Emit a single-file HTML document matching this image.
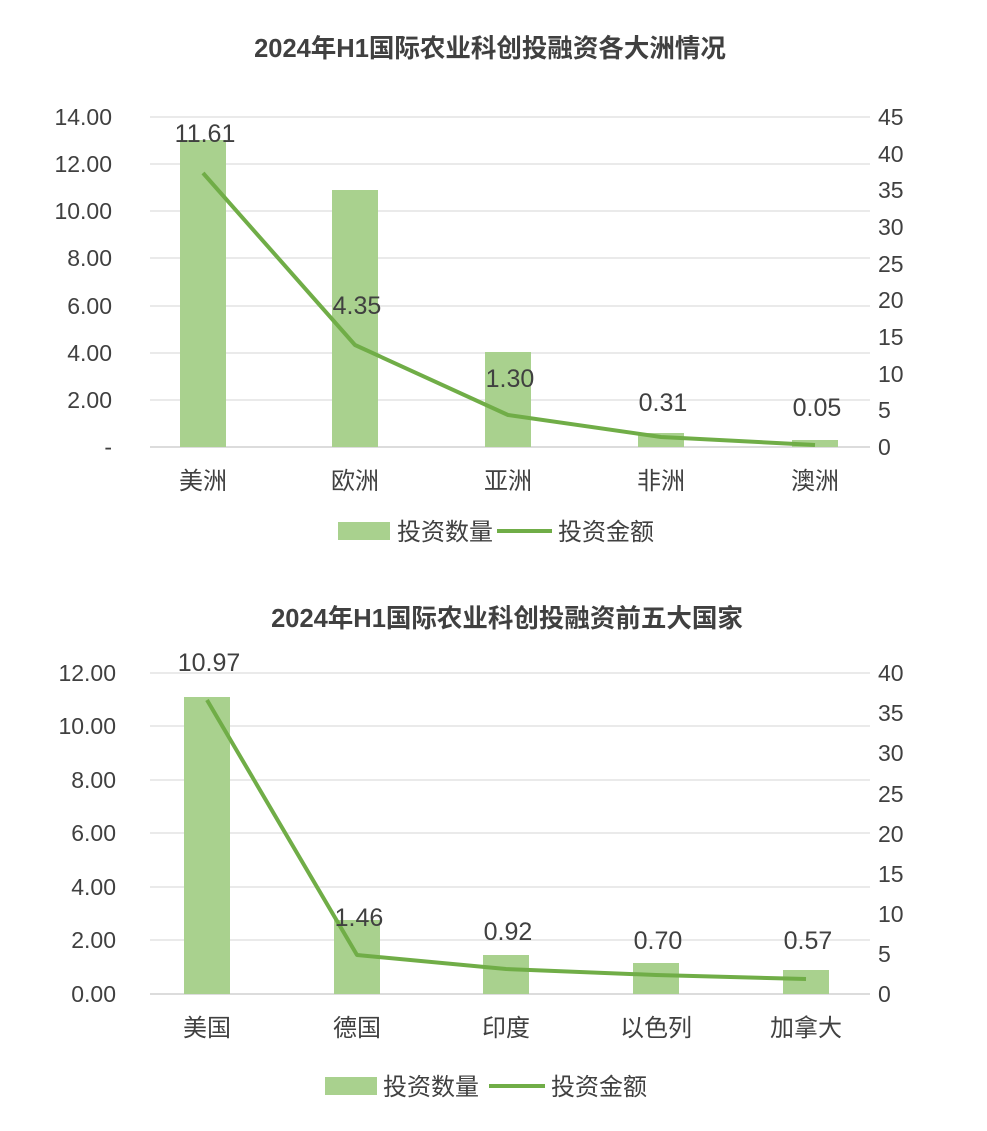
<!DOCTYPE html>
<html><head><meta charset="utf-8"><style>
body{margin:0;background:#fff;}
svg text{font-family:"Liberation Sans","Noto Sans CJK SC",sans-serif;fill:#404040;}
</style></head><body>
<svg width="987" height="1126" viewBox="0 0 987 1126" xmlns="http://www.w3.org/2000/svg">
<rect width="987" height="1126" fill="#fff"/>
<!-- Chart 1 -->
<text x="490" y="57" font-size="25.5" font-weight="bold" text-anchor="middle" fill="#404040">2024年H1国际农业科创投融资各大洲情况</text>
<g stroke="#e3e3e3" stroke-width="1.5">
<line x1="150" y1="117" x2="870" y2="117"/><line x1="150" y1="164" x2="870" y2="164"/>
<line x1="150" y1="211" x2="870" y2="211"/><line x1="150" y1="258" x2="870" y2="258"/>
<line x1="150" y1="306" x2="870" y2="306"/><line x1="150" y1="353" x2="870" y2="353"/>
<line x1="150" y1="400" x2="870" y2="400"/>
</g>
<line x1="150" y1="447" x2="870" y2="447" stroke="#d0d0d0" stroke-width="1.5"/>
<g font-size="23" text-anchor="end">
<text x="112" y="125">14.00</text><text x="112" y="172">12.00</text><text x="112" y="219">10.00</text>
<text x="112" y="266">8.00</text><text x="112" y="314">6.00</text><text x="112" y="361">4.00</text>
<text x="112" y="408">2.00</text><text x="112" y="455">-</text>
</g>
<g font-size="23" text-anchor="start">
<text x="878" y="125">45</text><text x="878" y="162">40</text><text x="878" y="198">35</text>
<text x="878" y="235">30</text><text x="878" y="272">25</text><text x="878" y="308">20</text>
<text x="878" y="345">15</text><text x="878" y="382">10</text><text x="878" y="418">5</text>
<text x="878" y="455">0</text>
</g>
<g fill="#a9d18e">
<rect x="180" y="140" width="46" height="307"/>
<rect x="332" y="190" width="46" height="257"/>
<rect x="485" y="352" width="46" height="95"/>
<rect x="638" y="433" width="46" height="14"/>
<rect x="792" y="440" width="46" height="7"/>
</g>
<polyline points="203,173 355,345 508,415 661,437 815,445" fill="none" stroke="#70ad47" stroke-width="4" stroke-linejoin="round"/>
<g font-size="25" text-anchor="middle">
<text x="205" y="142">11.61</text><text x="357" y="314">4.35</text><text x="510" y="387">1.30</text>
<text x="663" y="411">0.31</text><text x="817" y="416">0.05</text>
</g>
<g font-size="24" text-anchor="middle">
<text x="203" y="489">美洲</text><text x="355" y="489">欧洲</text><text x="508" y="489">亚洲</text>
<text x="661" y="489">非洲</text><text x="815" y="489">澳洲</text>
</g>
<rect x="338" y="522" width="52" height="18" fill="#a9d18e"/>
<text x="397" y="540" font-size="24">投资数量</text>
<line x1="497" y1="531" x2="552" y2="531" stroke="#70ad47" stroke-width="4"/>
<text x="558" y="540" font-size="24">投资金额</text>

<!-- Chart 2 -->
<text x="507" y="627" font-size="25.5" font-weight="bold" text-anchor="middle" fill="#404040">2024年H1国际农业科创投融资前五大国家</text>
<g stroke="#e3e3e3" stroke-width="1.5">
<line x1="150" y1="673" x2="870" y2="673"/><line x1="150" y1="726" x2="870" y2="726"/>
<line x1="150" y1="780" x2="870" y2="780"/><line x1="150" y1="833" x2="870" y2="833"/>
<line x1="150" y1="887" x2="870" y2="887"/><line x1="150" y1="940" x2="870" y2="940"/>
</g>
<line x1="150" y1="994" x2="870" y2="994" stroke="#d0d0d0" stroke-width="1.5"/>
<g font-size="23" text-anchor="end">
<text x="116" y="681">12.00</text><text x="116" y="734">10.00</text><text x="116" y="788">8.00</text>
<text x="116" y="841">6.00</text><text x="116" y="895">4.00</text><text x="116" y="948">2.00</text>
<text x="116" y="1002">0.00</text>
</g>
<g font-size="23" text-anchor="start">
<text x="878" y="681">40</text><text x="878" y="721">35</text><text x="878" y="761">30</text>
<text x="878" y="802">25</text><text x="878" y="842">20</text><text x="878" y="882">15</text>
<text x="878" y="922">10</text><text x="878" y="962">5</text><text x="878" y="1002">0</text>
</g>
<g fill="#a9d18e">
<rect x="184" y="697" width="46" height="297"/>
<rect x="334" y="920" width="46" height="74"/>
<rect x="483" y="955" width="46" height="39"/>
<rect x="633" y="963" width="46" height="31"/>
<rect x="783" y="970" width="46" height="24"/>
</g>
<polyline points="207,700 357,955 506,969 656,975 806,979" fill="none" stroke="#70ad47" stroke-width="4" stroke-linejoin="round"/>
<g font-size="25" text-anchor="middle">
<text x="209" y="671">10.97</text><text x="359" y="926">1.46</text><text x="508" y="940">0.92</text>
<text x="658" y="949">0.70</text><text x="808" y="949">0.57</text>
</g>
<g font-size="24" text-anchor="middle">
<text x="207" y="1036">美国</text><text x="357" y="1036">德国</text><text x="506" y="1036">印度</text>
<text x="656" y="1036">以色列</text><text x="806" y="1036">加拿大</text>
</g>
<rect x="325" y="1077" width="52" height="18" fill="#a9d18e"/>
<text x="383" y="1095" font-size="24">投资数量</text>
<line x1="489" y1="1086" x2="545" y2="1086" stroke="#70ad47" stroke-width="4"/>
<text x="551" y="1095" font-size="24">投资金额</text>
</svg>
</body></html>
